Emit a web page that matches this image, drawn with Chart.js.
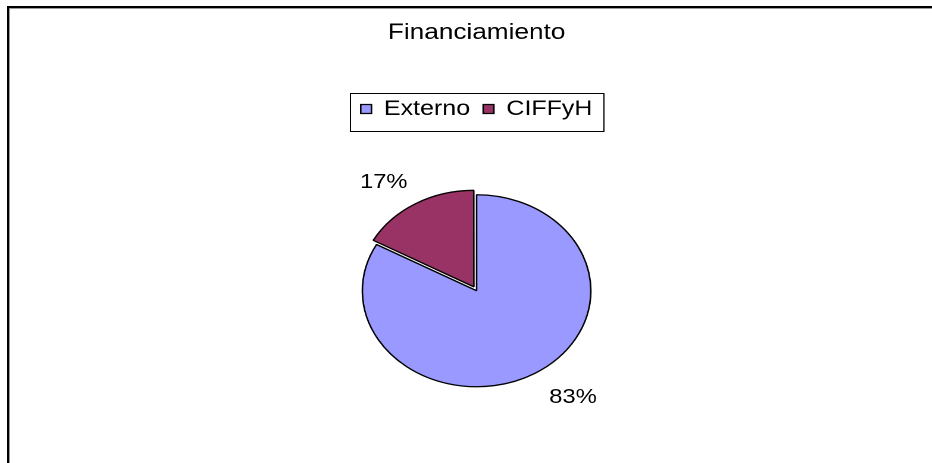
<!DOCTYPE html>
<html><head><meta charset="utf-8">
<script src="https://cdn.jsdelivr.net/npm/chart.js@4"></script>
<style>
html,body{margin:0;padding:0;width:932px;height:463px;overflow:hidden;background:#fff;}
#wrap{position:absolute;left:0;top:0;width:783px;height:463px;transform:scaleX(1.19);transform-origin:0 0;}
#frame{position:absolute;left:7px;top:6px;width:1000px;height:1000px;border-top:2px solid #000;border-left:2px solid #000;pointer-events:none;}
#frame2{position:absolute;left:9px;top:8px;width:1000px;height:1000px;border-top:1px solid #9a9a9a;border-left:1px solid #9a9a9a;pointer-events:none;}
</style></head><body>
<div id="wrap"><canvas id="c" width="783" height="463"></canvas></div>
<div id="frame2"></div>
<div id="frame"></div>
<script>
const categories = ['Externo', 'CIFFyH'];
const values = [83, 17];
const sliceColors = ['#9999FF', '#993366'];
const explode = [0, 18];
const titleText = 'Financiamiento';

const FONT = '"Liberation Sans", Arial, sans-serif';

const pctLabels = {
  id: 'pctLabels',
  afterDatasetsDraw(chart) {
    const ctx = chart.ctx;
    const meta = chart.getDatasetMeta(0);
    const total = values.reduce((a, b) => a + b, 0);
    ctx.save();
    ctx.font = '20px ' + FONT;
    ctx.fillStyle = '#000';
    ctx.textAlign = 'center';
    ctx.textBaseline = 'middle';
    meta.data.forEach((arc, i) => {
      const p = arc.getProps(['x', 'y', 'startAngle', 'endAngle', 'outerRadius'], true);
      const mid = (p.startAngle + p.endAngle) / 2;
      const dx = Math.cos(mid), dy = Math.sin(mid);
      const txt = Math.round(values[i] / total * 100) + '%';
      const w = ctx.measureText(txt).width, h = 20;
      const r = p.outerRadius + 18;
      const lx = p.x + dx * r + Math.sign(dx) * w / 2 + (dx > 0 ? 3 : 0);
      const ly = p.y + dy * r + Math.sign(dy) * h / 2 + (dy > 0 ? -1.5 : 0);
      ctx.fillText(txt, lx, ly);
    });
    ctx.restore();
  }
};

const legendBox = {
  id: 'legendBox',
  afterDraw(chart) {
    const hb = chart.legend && chart.legend.legendHitBoxes;
    if (!hb || !hb.length) return;
    const ctx = chart.ctx;
    const l = Math.min(...hb.map(b => b.left)) - 9;
    const r = Math.max(...hb.map(b => b.left + b.width)) + 9;
    const t = hb[0].top - 5.5;
    const b = hb[0].top + hb[0].height + 11.5;
    ctx.save();
    ctx.strokeStyle = '#000';
    ctx.lineWidth = 1;
    ctx.strokeRect(Math.round(l) + 0.5, Math.round(t) + 0.5, Math.round(r - l), Math.round(b - t));
    ctx.restore();
  }
};

new Chart(document.getElementById('c'), {
  type: 'pie',
  data: {
    labels: categories,
    datasets: [{
      data: values,
      backgroundColor: sliceColors,
      borderColor: '#000',
      borderWidth: 1.3,
      offset: explode,
      radius: 96
    }]
  },
  options: {
    responsive: false,
    devicePixelRatio: 2,
    animation: false,
    layout: { padding: { left: 18, right: 0, top: 0, bottom: 11 } },
    plugins: {
      title: {
        display: true,
        text: titleText,
        color: '#000',
        font: { family: FONT, size: 22, weight: 'normal' },
        padding: { top: 19.8, bottom: 41.3 }
      },
      legend: {
        display: true,
        position: 'top',
        labels: {
          boxWidth: 9,
          boxHeight: 9,
          padding: 11,
          color: '#000',
          font: { family: FONT, size: 21 }
        }
      },
      tooltip: { enabled: false }
    }
  },
  plugins: [pctLabels, legendBox]
});
</script>
</body></html>
